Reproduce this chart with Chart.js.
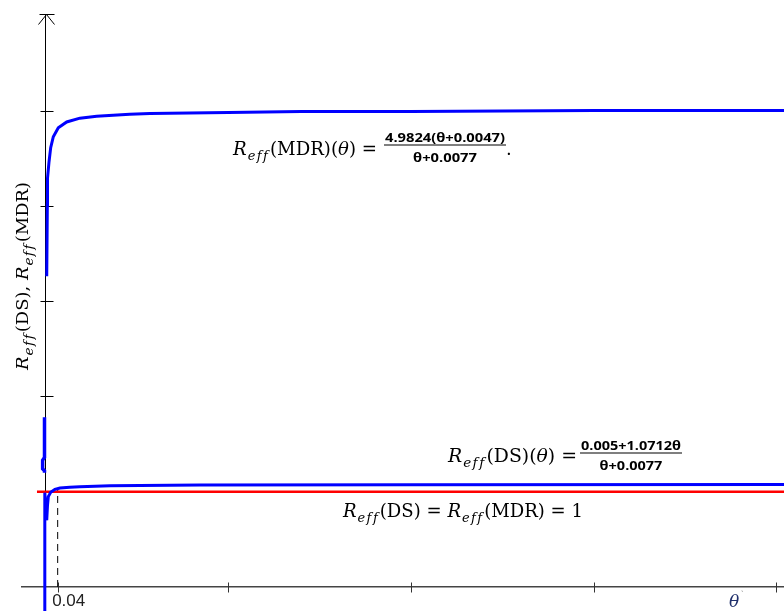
<!DOCTYPE html>
<html>
<head>
<meta charset="utf-8">
<script src="https://cdn.jsdelivr.net/npm/chart.js@4.4.0/dist/chart.umd.min.js"></script>
<style>
  html, body { margin: 0; padding: 0; background: #fff; }
</style>
</head>
<body>
<canvas id="myChart" width="784" height="611"></canvas>
<script>
// values (theta -> R_eff)
const mdrTheta = [0.004, 0.006, 0.0066, 0.0115, 0.017, 0.0256, 0.042, 0.0696, 0.113, 0.168, 0.222, 0.277, 0.343, 0.6, 0.84, 1.2, 1.8, 2.43];
const mdrValue = [3.26, 4.01, 4.29, 4.46, 4.61, 4.725, 4.82, 4.88, 4.92, 4.94, 4.95, 4.96, 4.97, 4.98, 4.99, 4.99, 5.0, 5.0];

const dsLeftTheta = [-0.0033, -0.0033, -0.0095, -0.0095, -0.0033, -0.0033];
const dsLeftValue = [1.78, 1.36, 1.33, 1.24, 1.22, 1.20];

const dsRightTheta = [-0.0023, -0.0023, 0.004, 0.0066, 0.0092, 0.017, 0.031, 0.0476, 0.08, 0.113, 0.212, 0.507, 1.2, 2.43];
const dsRightValue = [-0.35, 0.99, 0.70, 0.86, 0.948, 0.994, 1.025, 1.039, 1.046, 1.052, 1.063, 1.07, 1.074, 1.076];

const refTheta = [-0.028, 2.43];
const refValue = [1, 1];

const markTheta = [0.04, 0.04];
const markValue = [0, 1.02];

const xTickValues = [0.04, 0.6, 1.2, 1.8, 2.4];
const xTickLabels = ['0.04', '', '', '', ''];
const yTickValues = [1, 2, 3, 4, 5];

function toPoints(xs, ys) {
    return xs.map((v, i) => ({ x: v, y: ys[i] }));
}

const serif = '"DejaVu Serif", "Liberation Serif", serif';
const sans = '"Open Sans", "DejaVu Sans", sans-serif';

// parts: [text, font, dy, extra spacing after]
function drawRich(ctx, x, y, parts) {
    parts.forEach(p => {
        ctx.font = p[1];
        ctx.fillText(p[0], x, y + (p[2] || 0));
        x += ctx.measureText(p[0]).width + (p[3] || 0);
    });
    return x;
}

function richWidth(ctx, parts) {
    let w = 0;
    parts.forEach(p => {
        ctx.font = p[1];
        w += ctx.measureText(p[0]).width + (p[3] || 0);
    });
    return w;
}

// draw a run of text squeezed / stretched to a given width
function drawRichFit(ctx, x, y, parts, target) {
    const s = target / richWidth(ctx, parts);
    ctx.save();
    ctx.translate(x, y);
    ctx.scale(s, 1);
    drawRich(ctx, 0, 0, parts);
    ctx.restore();
    return x + target;
}

function drawFrac(ctx, x, yBar, num, den, font, barWidth) {
    ctx.font = font;
    const s = (barWidth - 2) / ctx.measureText(num).width;
    ctx.fillRect(x, yBar - 0.5, barWidth, 1);
    ctx.save();
    ctx.translate(x + barWidth / 2, yBar);
    ctx.scale(s, 1);
    ctx.textAlign = 'center';
    ctx.fillText(num, 0, -3.5);
    ctx.fillText(den, 0, 16.5);
    ctx.restore();
    return x + barWidth;
}

const R = (size) => {
    const sub = 'italic ' + Math.round(size * 0.74) + 'px ' + serif;
    const dy = size * 0.3;
    return [
        ['R', 'italic ' + size + 'px ' + serif, 0, 1],
        ['e', sub, dy, 1.2],
        ['f', sub, dy, 1.6],
        ['f', sub, dy, 2]
    ];
};

const axisExtras = {
    id: 'axisExtras',
    beforeDatasetsDraw(chart) {
        const { ctx, scales: { x, y } } = chart;
        const x0 = Math.round(x.getPixelForValue(0)) + 0.5;
        const y0 = Math.round(y.getPixelForValue(0)) + 0.5;
        ctx.save();
        ctx.lineWidth = 1;
        ctx.strokeStyle = '#333';
        ctx.beginPath();
        x.ticks.forEach(t => {
            const px = Math.round(x.getPixelForValue(t.value)) + 0.5;
            ctx.moveTo(px, y0 - 5);
            ctx.lineTo(px, y0 + 5);
        });
        ctx.stroke();
        ctx.strokeStyle = '#000';
        ctx.beginPath();
        y.ticks.forEach(t => {
            const py = Math.round(y.getPixelForValue(t.value)) + 0.5;
            ctx.moveTo(x0 - 6, py);
            ctx.lineTo(x0 + 7, py);
        });
        // arrow head at the top of the y axis
        const top = chart.chartArea.top + 0.5;
        ctx.moveTo(x0 - 7, top);
        ctx.lineTo(x0 + 8, top);
        ctx.moveTo(x0 - 8, top + 10);
        ctx.lineTo(x0, top);
        ctx.lineTo(x0 + 8, top + 10);
        ctx.stroke();
        ctx.restore();
    },
    afterDraw(chart) {
        const { ctx } = chart;
        const f18 = '18px ' + serif;
        const i18 = 'italic 18px ' + serif;
        ctx.save();
        ctx.fillStyle = '#000';
        ctx.textBaseline = 'alphabetic';
        ctx.textAlign = 'left';

        // MDR formula
        drawRichFit(ctx, 233, 155, [...R(18), ['(MDR)(', f18], ['θ', i18], [') =', f18]], 144);
        drawFrac(ctx, 384, 145, '4.9824(θ+0.0047)', 'θ+0.0077', 'bold 12px ' + sans, 122);
        ctx.font = f18;
        ctx.fillText('.', 506, 155);

        // DS formula
        drawRichFit(ctx, 448, 462, [...R(18), ['(DS)(', f18], ['θ', i18], [') =', f18]], 129);
        drawFrac(ctx, 580, 453, '0.005+1.0712θ', 'θ+0.0077', 'bold 12px ' + sans, 102);

        // reference line label
        drawRichFit(ctx, 343, 517, [...R(18), ['(DS) = ', f18], ...R(18), ['(MDR) = 1', f18]], 240);

        // x axis name
        ctx.fillStyle = '#1f2f6b';
        ctx.font = 'italic 17px ' + serif;
        ctx.fillText('θ', 729, 607);
        ctx.fillStyle = '#999';
        ctx.font = '9px ' + sans;
        ctx.fillText('`', 741, 598);

        // y axis title, rotated
        ctx.fillStyle = '#000';
        const title = [...R(17), ['(DS), ', '17px ' + serif], ...R(17), ['(MDR)', '17px ' + serif]];
        ctx.translate(28, 276);
        ctx.rotate(-Math.PI / 2);
        drawRichFit(ctx, -94, 0, title, 188);
        ctx.restore();
    }
};

const ctx = document.getElementById('myChart').getContext('2d');

new Chart(ctx, {
    type: 'scatter',
    data: {
        datasets: [
            {
                label: 'R_eff(MDR)',
                data: toPoints(mdrTheta, mdrValue),
                showLine: true,
                borderColor: '#0000ff',
                borderWidth: 3,
                pointRadius: 0
            },
            {
                label: 'R_eff(DS) left',
                data: toPoints(dsLeftTheta, dsLeftValue),
                showLine: true,
                borderColor: '#0000ff',
                borderWidth: 3.5,
                pointRadius: 0
            },
            {
                label: 'R_eff(DS)',
                data: toPoints(dsRightTheta, dsRightValue),
                showLine: true,
                borderColor: '#0000ff',
                borderWidth: 3,
                pointRadius: 0
            },
            {
                label: 'R_eff = 1',
                data: toPoints(refTheta, refValue),
                showLine: true,
                borderColor: '#ff0000',
                borderWidth: 2.5,
                pointRadius: 0
            },
            {
                label: 'theta = 0.04',
                data: toPoints(markTheta, markValue),
                showLine: true,
                borderColor: '#000',
                borderWidth: 1,
                borderDash: [7, 5],
                pointRadius: 0
            }
        ]
    },
    options: {
        responsive: false,
        animation: false,
        layout: { padding: { left: 22, top: 14, right: 0, bottom: 0 } },
        plugins: {
            legend: { display: false },
            tooltip: { enabled: false }
        },
        scales: {
            x: {
                type: 'linear',
                axis: 'x',
                position: { y: 0 },
                min: -0.0772,
                max: 2.4253,
                grid: { display: false },
                border: { display: true, color: '#444', width: 1.5 },
                afterBuildTicks: scale => {
                    scale.ticks = xTickValues.map(v => ({ value: v }));
                },
                ticks: {
                    autoSkip: false,
                    maxRotation: 0,
                    padding: -4,
                    labelOffset: 11,
                    color: '#222',
                    font: { family: 'Liberation Sans', size: 17 },
                    callback: (value, index) => xTickLabels[index]
                }
            },
            y: {
                type: 'linear',
                axis: 'y',
                position: { x: 0 },
                min: -0.252,
                max: 6.013,
                grid: { display: false },
                border: { display: true, color: '#000', width: 1 },
                afterBuildTicks: scale => {
                    scale.ticks = yTickValues.map(v => ({ value: v }));
                },
                ticks: { display: false }
            }
        }
    },
    plugins: [axisExtras]
});
</script>
</body>
</html>
